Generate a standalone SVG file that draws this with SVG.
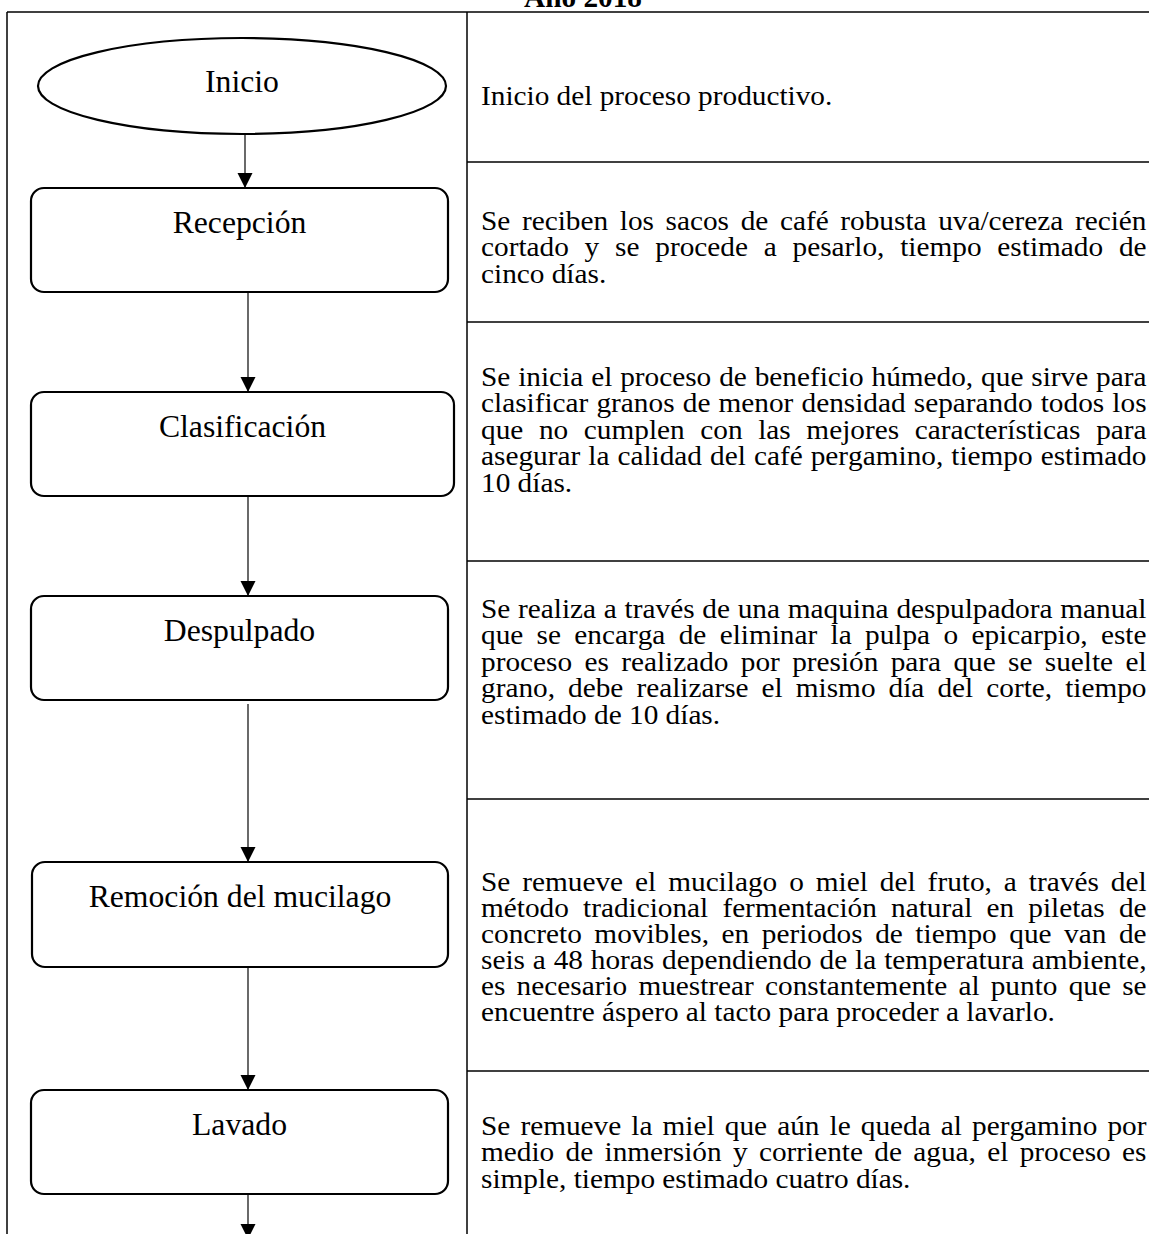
<svg xmlns="http://www.w3.org/2000/svg" width="1149" height="1234" viewBox="0 0 1149 1234">
<style>
.grid{stroke:#000;stroke-width:1.5;fill:none}
.box{fill:#fff;stroke:#000;stroke-width:2.2}
.lbl{font-family:"Liberation Serif","Times New Roman",serif;font-size:31.7px;fill:#000;text-anchor:middle;font-kerning:none;font-variant-ligatures:none}
.desc{font-family:"Liberation Serif","Times New Roman",serif;font-size:27px;fill:#000;font-kerning:none;font-variant-ligatures:none}
.title{font-family:"Liberation Serif","Times New Roman",serif;font-size:29.3px;font-weight:bold;fill:#000;text-anchor:middle}
.conn{stroke:#1a1a1a;stroke-width:1.3;fill:none;marker-end:url(#arr)}
</style>
<defs>
<marker id="arr" markerUnits="userSpaceOnUse" markerWidth="16" markerHeight="16" refX="15" refY="7.5" orient="auto">
<path d="M0,0 L15,7.5 L0,15 z" fill="#000"/>
</marker>
</defs>
<rect width="1149" height="1234" fill="#fff"/>
<text class="title" x="583" y="7">Año 2018</text>
<g id="table">
<line class="grid" x1="7" y1="12" x2="1149" y2="12"/>
<line class="grid" x1="7" y1="12" x2="7" y2="1234"/>
<line class="grid" x1="467" y1="12" x2="467" y2="1234"/>
<line class="grid" x1="467" y1="162" x2="1149" y2="162"/>
<line class="grid" x1="467" y1="322" x2="1149" y2="322"/>
<line class="grid" x1="467" y1="561" x2="1149" y2="561"/>
<line class="grid" x1="467" y1="799" x2="1149" y2="799"/>
<line class="grid" x1="467" y1="1071" x2="1149" y2="1071"/>
</g>
<g id="connectors">
<line class="conn" x1="245" y1="134" x2="245" y2="188"/>
<line class="conn" x1="248" y1="292" x2="248" y2="392"/>
<line class="conn" x1="248" y1="496" x2="248" y2="596"/>
<line class="conn" x1="248" y1="704" x2="248" y2="862"/>
<line class="conn" x1="248" y1="967" x2="248" y2="1090"/>
<line class="conn" x1="248" y1="1194" x2="248" y2="1239"/>
</g>
<g id="inicio">
<ellipse class="box" cx="242" cy="86" rx="204" ry="48"/>
<text class="lbl" x="242" y="92">Inicio</text>
</g>
<g id="recepcion">
<rect class="box" x="31" y="188" width="417" height="104" rx="13"/>
<text class="lbl" x="239.5" y="233">Recepción</text>
</g>
<g id="clasificacion">
<rect class="box" x="31" y="392" width="423" height="104" rx="13"/>
<text class="lbl" x="242.5" y="437">Clasificación</text>
</g>
<g id="despulpado">
<rect class="box" x="31" y="596" width="417" height="104" rx="13"/>
<text class="lbl" x="239.5" y="641">Despulpado</text>
</g>
<g id="remocion">
<rect class="box" x="32" y="862" width="416" height="105" rx="13"/>
<text class="lbl" x="240" y="907">Remoción del mucilago</text>
</g>
<g id="lavado">
<rect class="box" x="31" y="1090" width="417" height="104" rx="13"/>
<text class="lbl" x="239.5" y="1135">Lavado</text>
</g>
<g id="desc-inicio" transform="translate(481 0) scale(1.0852 1)">
<text class="desc" x="0" y="105">Inicio del proceso productivo.</text>
</g>
<g id="desc-recepcion" transform="translate(481 0) scale(1.0852 1)">
<text class="desc" x="0" y="229.8" style="word-spacing:3.99px">Se reciben los sacos de café robusta uva/cereza recién</text>
<text class="desc" x="0" y="256.3" style="word-spacing:7.82px">cortado y se procede a pesarlo, tiempo estimado de</text>
<text class="desc" x="0" y="282.8">cinco días.</text>
</g>
<g id="desc-clasificacion" transform="translate(481 0) scale(1.0852 1)">
<text class="desc" x="0" y="385.8" style="word-spacing:0.54px">Se inicia el proceso de beneficio húmedo, que sirve para</text>
<text class="desc" x="0" y="412.3" style="word-spacing:0.8px">clasificar granos de menor densidad separando todos los</text>
<text class="desc" x="0" y="438.8" style="word-spacing:7.66px">que no cumplen con las mejores características para</text>
<text class="desc" x="0" y="465.3" style="word-spacing:0.69px">asegurar la calidad del café pergamino, tiempo estimado</text>
<text class="desc" x="0" y="491.8">10 días.</text>
</g>
<g id="desc-despulpado" transform="translate(481 0) scale(1.0852 1)">
<text class="desc" x="0" y="617.8" style="word-spacing:0.42px">Se realiza a través de una maquina despulpadora manual</text>
<text class="desc" x="0" y="644.3" style="word-spacing:5.54px">que se encarga de eliminar la pulpa o epicarpio, este</text>
<text class="desc" x="0" y="670.8" style="word-spacing:4.63px">proceso es realizado por presión para que se suelte el</text>
<text class="desc" x="0" y="697.3" style="word-spacing:5.29px">grano, debe realizarse el mismo día del corte, tiempo</text>
<text class="desc" x="0" y="723.8">estimado de 10 días.</text>
</g>
<g id="desc-remocion" transform="translate(481 0) scale(1.0852 1)">
<text class="desc" x="0" y="890.8" style="word-spacing:4.31px">Se remueve el mucilago o miel del fruto, a través del</text>
<text class="desc" x="0" y="916.8" style="word-spacing:6.31px">método tradicional fermentación natural en piletas de</text>
<text class="desc" x="0" y="942.8" style="word-spacing:4.82px">concreto movibles, en periodos de tiempo que van de</text>
<text class="desc" x="0" y="968.8" style="word-spacing:0.51px">seis a 48 horas dependiendo de la temperatura ambiente,</text>
<text class="desc" x="0" y="994.8" style="word-spacing:3.59px">es necesario muestrear constantemente al punto que se</text>
<text class="desc" x="0" y="1020.8">encuentre áspero al tacto para proceder a lavarlo.</text>
</g>
<g id="desc-lavado" transform="translate(481 0) scale(1.0852 1)">
<text class="desc" x="0" y="1134.8" style="word-spacing:2.58px">Se remueve la miel que aún le queda al pergamino por</text>
<text class="desc" x="0" y="1161.3" style="word-spacing:3.7px">medio de inmersión y corriente de agua, el proceso es</text>
<text class="desc" x="0" y="1187.8">simple, tiempo estimado cuatro días.</text>
</g>
</svg>
